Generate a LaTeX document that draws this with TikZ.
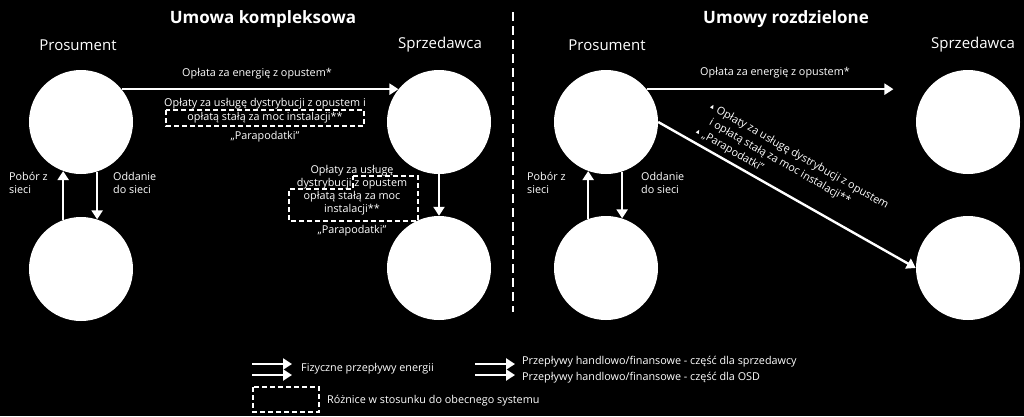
\documentclass[tikz,border=0pt]{standalone}
\usepackage{amssymb}
\usepackage{fontspec}
\setmainfont{Open Sans}
\usetikzlibrary{arrows.meta}

\tikzset{
  party/.style={circle, fill=white, minimum size=104pt, inner sep=0pt},
  flow/.style={draw=white, line width=2.4pt, -{Triangle[length=9pt, width=11pt]}},
  lbl/.style={text=white, font=\fontsize{10.8}{13}\selectfont, inner sep=1pt},
  head/.style={text=white, font=\fontsize{15}{17}\selectfont},
  title/.style={text=white, font=\fontsize{17}{19}\selectfont\bfseries},
  diff/.style={draw=white, line width=1.3pt, dash pattern=on 5pt off 3pt}
}
\newcommand{\tri}{\raisebox{1pt}{\scalebox{0.6}{$\blacktriangle$}}}

\begin{document}
\begin{tikzpicture}[x=1pt, y=-1pt]
  \fill[black] (0,0) rectangle (1024,416);
  \useasboundingbox (0,0) rectangle (1024,416);
  % separator
  \draw[diff, line width=2pt, dash pattern=on 9pt off 5pt] (513,12) -- (513,312);

  % left part
  \node[title] at (263,19) {Umowa kompleksowa};
  \node[head] at (78,45) {Prosument};
  \node[head] at (440,45) {Sprzedawca};
  \node[party] (proL) at (81,122) {};
  \node[party] (gridL) at (81,269) {};
  \node[party] (sprL) at (439,122) {};
  \node[party] (osdL) at (439,268) {};
  \draw[flow] (proL.39) -- (sprL.141);
  \node[lbl] at (257,74) {Opłata za energię z opustem*};
  \node[lbl] at (265,104) {Opłaty za usługę dystrybucji z opustem i};
  \node[lbl] at (265,118) {opłatą stałą za moc instalacji**};
  \draw[diff] (166,110) rectangle (364,126);
  \node[lbl] at (265,137) {„Parapodatki”};
  \draw[flow] (gridL.110) -- (proL.250);
  \draw[flow] (proL.288) -- (gridL.72);
  \node[lbl, anchor=west, align=left] at (8,183) {Pobór z\\sieci};
  \node[lbl, anchor=west, align=left] at (112,183) {Oddanie\\do sieci};
  \draw[flow] (sprL.south) -- (osdL.north);
  \node[lbl, align=center] at (352,190) {Opłaty za usługę\\dystrybucji z opustem\\opłatą stałą za moc\\instalacji**};
  \draw[diff] (353,176) -- (418,176) -- (418,221) -- (289,221) -- (289,189) -- (353,189) -- cycle;
  \node[lbl] at (352,231) {„Parapodatki”};

  % right part
  \node[title] at (786,19) {Umowy rozdzielone};
  \node[head] at (607,45) {Prosument};
  \node[head] at (973,45) {Sprzedawca};
  \node[party] (proR) at (606,122) {};
  \node[party] (gridR) at (606,268) {};
  \node[party] (sprR) at (968,122) {};
  \node[party] (osdR) at (968,268) {};
  \draw[flow, shorten >=34pt] (proR.39) -- (sprR.141);
  \node[lbl] at (775,73) {Opłata za energię z opustem*};
  \draw[flow] (proR.east) -- node[lbl, sloped, pos=0.12, anchor=south west, align=left, yshift=3pt,
      font=\fontsize{10.8}{14.5}\selectfont]
    {\tri\ Opłaty za usługę dystrybucji z opustem\\
     \phantom{\tri\ }i opłatą stałą za moc instalacji**\\
     \tri\ „Parapodatki”} (osdR.west);
  \draw[flow] (gridR.110) -- (proR.250);
  \draw[flow] (proR.288) -- (gridR.72);
  \node[lbl, anchor=west, align=left] at (526,183) {Pobór z\\sieci};
  \node[lbl, anchor=west, align=left] at (640,183) {Oddanie\\do sieci};

  % legend
  \coordinate (e1) at (252,364); \coordinate (e2) at (292,364);
  \coordinate (e3) at (252,375); \coordinate (e4) at (292,375);
  \draw[flow] (e1) -- (e2);
  \draw[flow] (e3) -- (e4);
  \node[lbl, anchor=west] at (300,369) {Fizyczne przepływy energii};
  \coordinate (f1) at (475,364); \coordinate (f2) at (515,364);
  \coordinate (f3) at (475,375); \coordinate (f4) at (515,375);
  \draw[flow] (f1) -- (f2);
  \draw[flow] (f3) -- (f4);
  \node[lbl, anchor=west] at (521,362) {Przepływy handlowo/finansowe - część dla sprzedawcy};
  \node[lbl, anchor=west] at (521,378) {Przepływy handlowo/finansowe - część dla OSD};
  \draw[diff] (253,387) rectangle (319,412);
  \node[lbl, anchor=west] at (326,401) {Różnice w stosunku do obecnego systemu};
\end{tikzpicture}
\end{document}
